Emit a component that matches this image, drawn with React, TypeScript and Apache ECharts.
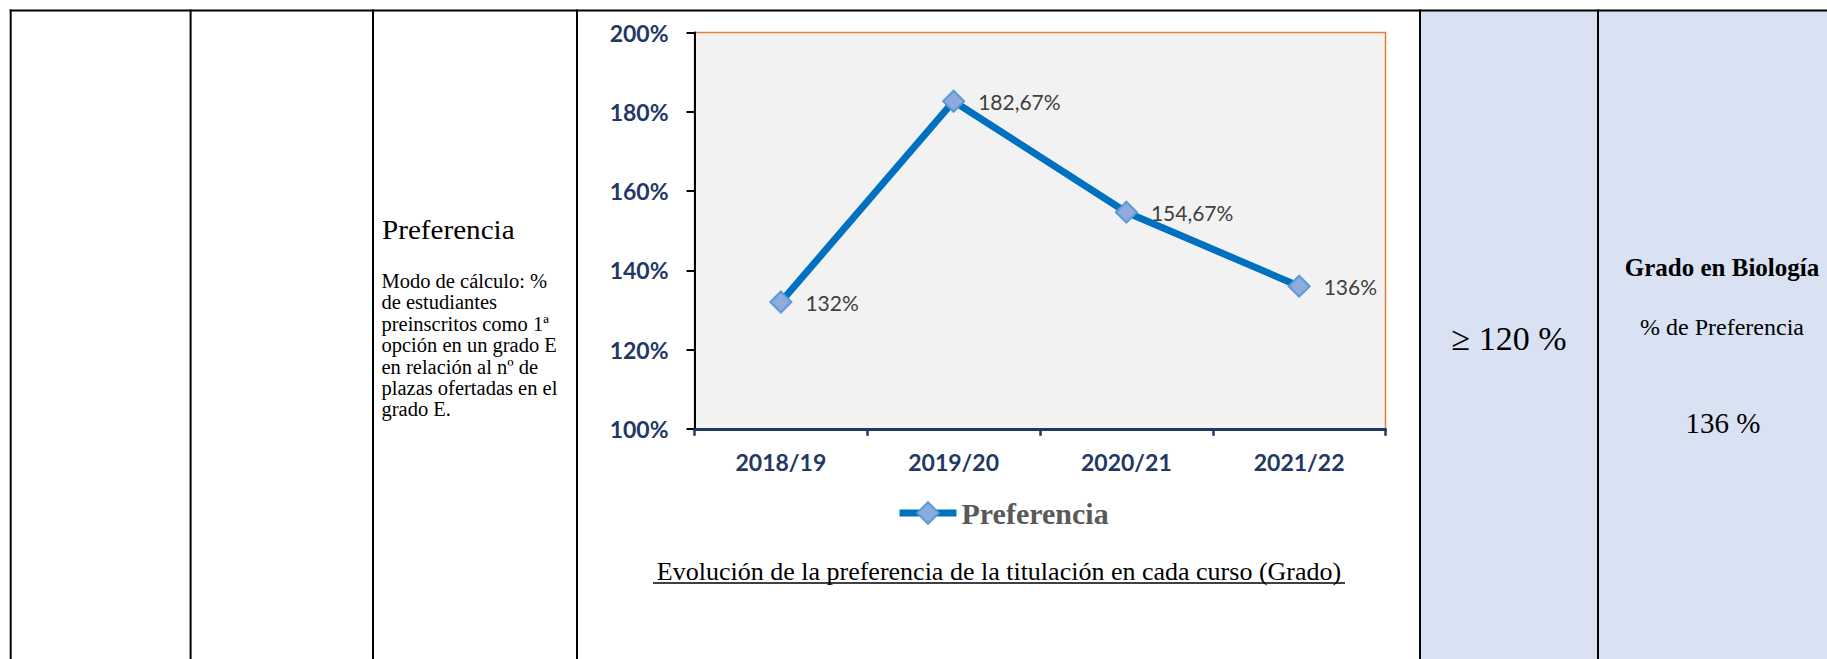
import React, { useEffect, useRef } from "react";
import * as echarts from "echarts";

const categories = ["2018/19", "2019/20", "2020/21", "2021/22"];
const preferencia = [1.32, 1.8267, 1.5467, 1.36];
const yTicks = { min: 1, max: 2, interval: 0.2 };
const leftHeading = "Preferencia";
const leftLines = [
  "Modo de cálculo: %",
  "de estudiantes",
  "preinscritos como 1ª",
  "opción en un grado E",
  "en relación al nº de",
  "plazas ofertadas en el",
  "grado E.",
];
const chartTitle = "Evolución de la preferencia de la titulación en cada curso (Grado)";
const targetText = "≥ 120 %";
const resultTitle = "Grado en Biología";
const resultSub = "% de Preferencia";
const resultValue = "136 %";

const W = 1827;
const H = 659;

function pct(v: number): string {
  const p = Math.round(v * 10000) / 100;
  const s = Number.isInteger(p) ? String(p) : p.toFixed(2).replace(".", ",");
  return s + "%";
}

export default function App() {
  const ref = useRef<HTMLDivElement>(null);
  useEffect(() => {
    if (!ref.current) return;
    const chart = echarts.init(ref.current, undefined, { renderer: "svg" });
    const serif = "Liberation Serif";
    const mk = (
      text: string,
      x: number,
      y: number,
      size: number,
      align: string,
      weight = "normal",
      extra: any = {}
    ) => ({
      type: "text",
      x,
      y,
      ...extra,
      style: {
        text,
        fontFamily: serif,
        fontSize: size,
        fontWeight: weight,
        fill: "#000",
        textAlign: align,
        textVerticalAlign: "middle",
      },
    });
    const lineStyle = { stroke: "#000", lineWidth: 2 };
    const vLines = [10.7, 190.6, 373, 577, 1420, 1598];
    const graphics: any[] = [
      {
        type: "rect",
        z: -10,
        shape: { x: 1420, y: 10.5, width: W - 1420, height: H },
        style: { fill: "#D9E2F3" },
      },
      {
        type: "line",
        shape: { x1: 9.7, y1: 10.5, x2: W, y2: 10.5 },
        style: lineStyle,
      },
      ...vLines.map((x) => ({
        type: "line",
        shape: { x1: x, y1: 9.5, x2: x, y2: H },
        style: lineStyle,
      })),
      mk(leftHeading, 382, 229.5, 26.5, "left", "normal", { scaleX: 1.1 }),
      ...leftLines.map((t, i) => mk(t, 381.5, 281 + i * 21.4, 20.5, "left")),
      mk(chartTitle, 999, 571, 26, "center"),
      {
        type: "line",
        shape: { x1: 653, y1: 583, x2: 1345, y2: 583 },
        style: { stroke: "#000", lineWidth: 1.5 },
      },
      mk(targetText, 1509, 338, 34, "center"),
      mk(resultTitle, 1722, 267, 25, "center", "bold"),
      mk(resultSub, 1722, 327, 24, "center"),
      mk(resultValue, 1723, 423, 29, "center"),
    ];

    chart.setOption({
      animation: false,
      backgroundColor: "#fff",
      grid: {
        left: 694.5,
        right: W - 1385.5,
        top: 32.6,
        bottom: H - 428.8,
        containLabel: false,
        show: true,
        backgroundColor: "#F2F2F2",
        borderColor: "#ED7D31",
        borderWidth: 1.5,
      },
      legend: {
        data: ["Preferencia"],
        left: 896,
        top: 498,
        padding: 0,
        itemWidth: 57,
        itemHeight: 27,
        lineStyle: { width: 7 },
        textStyle: {
          fontFamily: serif,
          fontWeight: "bold",
          fontSize: 30,
          color: "#595959",
        },
      },
      xAxis: {
        type: "category",
        data: categories,
        boundaryGap: true,
        axisLine: { show: true, lineStyle: { color: "#203864", width: 3 } },
        axisTick: { show: true, length: 7, lineStyle: { color: "#203864", width: 2.5 } },
        axisLabel: {
          margin: 22,
          fontFamily: "Lato",
          fontWeight: "bold",
          fontSize: 23,
          color: "#1F3864",
        },
        splitLine: { show: false },
      },
      yAxis: {
        type: "value",
        min: yTicks.min,
        max: yTicks.max,
        interval: yTicks.interval,
        axisLine: { show: true, lineStyle: { color: "#000", width: 2 } },
        axisTick: { show: true, length: 8, lineStyle: { color: "#000", width: 2 } },
        axisLabel: {
          margin: 26,
          fontFamily: "Lato",
          fontWeight: "bold",
          fontSize: 23,
          color: "#1F3864",
          formatter: (v: number) => Math.round(v * 100) + "%",
        },
        splitLine: { show: false },
      },
      series: [
        {
          name: "Preferencia",
          type: "line",
          data: preferencia,
          symbol: "diamond",
          symbolSize: 21,
          lineStyle: { color: "#0070C0", width: 7 },
          itemStyle: { color: "#8FAADC", borderColor: "#5B9BD5", borderWidth: 2 },
          label: {
            show: true,
            position: "right",
            distance: 13,
            fontFamily: "Lato",
            fontSize: 21,
            color: "#404040",
            formatter: (p: any) => pct(p.value),
          },
        },
      ],
      graphic: graphics,
    });
    return () => chart.dispose();
  }, []);
  return (
    <div
      ref={ref}
      style={{ position: "absolute", left: 0, top: 0, width: W, height: H }}
    />
  );
}
